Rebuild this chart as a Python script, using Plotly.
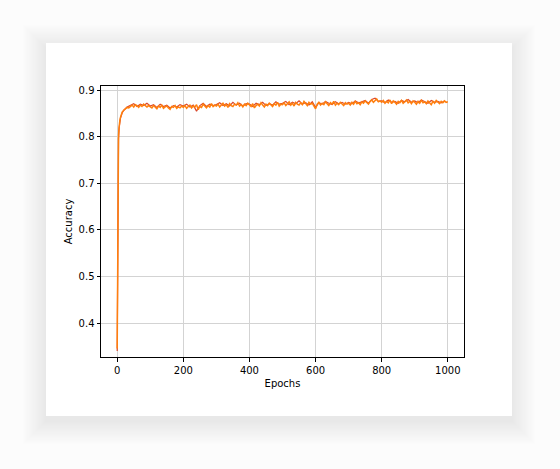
import plotly.graph_objects as go

# orange series (every 5 epochs after warm-up)
epochs_a = [0, 1, 2, 3, 4, 5, 6, 8, 10, 12, 15, 20, 25, 30, 35] + list(range(40, 1001, 5))
acc_a = [0.345, 0.56, 0.70, 0.77, 0.80, 0.815, 0.825, 0.835, 0.842, 0.848, 0.853, 0.857, 0.860, 0.863, 0.862,
         0.866, 0.868, 0.864, 0.869, 0.867, 0.863, 0.868, 0.865, 0.870, 0.866, 0.864, 0.867,
         0.865, 0.862, 0.867, 0.864, 0.860, 0.866, 0.863, 0.868, 0.861, 0.864, 0.866, 0.862, 0.859, 0.865, 0.863, 0.867, 0.861, 0.864, 0.862, 0.866,
         0.863, 0.867, 0.861, 0.865, 0.868, 0.862, 0.866, 0.864, 0.869, 0.858, 0.865, 0.863, 0.870, 0.866, 0.862, 0.867, 0.864, 0.871, 0.865, 0.868,
         0.866, 0.870, 0.864, 0.868, 0.872, 0.866, 0.869, 0.863, 0.871, 0.867, 0.865, 0.870, 0.868, 0.873, 0.866, 0.869, 0.864, 0.870, 0.867, 0.872,
         0.868, 0.865, 0.871, 0.862, 0.867, 0.870, 0.866, 0.873, 0.868, 0.864, 0.870, 0.867, 0.872, 0.869, 0.865, 0.871, 0.868, 0.874, 0.866, 0.870,
         0.869, 0.873, 0.867, 0.871, 0.875, 0.868, 0.872, 0.866, 0.874, 0.870, 0.868, 0.873, 0.869, 0.876, 0.871, 0.867, 0.874, 0.870, 0.872, 0.865,
         0.860, 0.870, 0.874, 0.868, 0.872, 0.869, 0.875, 0.871, 0.867, 0.873, 0.870, 0.876, 0.868, 0.872, 0.869, 0.874, 0.871, 0.867, 0.873, 0.870,
         0.872, 0.868, 0.874, 0.870, 0.876, 0.871, 0.873, 0.869, 0.875, 0.872, 0.877, 0.873, 0.870, 0.876, 0.879, 0.874, 0.878, 0.881, 0.875, 0.877,
         0.874, 0.878, 0.872, 0.876, 0.873, 0.879, 0.871, 0.877, 0.874, 0.870, 0.876, 0.873, 0.878, 0.872, 0.875, 0.879, 0.873, 0.876, 0.871, 0.877,
         0.874, 0.870, 0.876, 0.872, 0.878, 0.873, 0.875, 0.871, 0.877, 0.874, 0.869, 0.876, 0.872, 0.878, 0.874, 0.871, 0.876, 0.873, 0.877, 0.874,
         0.875]

# red series underneath (every 10 epochs after warm-up)
epochs_b = [0, 1, 2, 3, 4, 6, 8, 10, 15, 20, 30] + list(range(40, 1000, 10))
acc_b = [0.34, 0.55, 0.69, 0.76, 0.795, 0.82, 0.832, 0.84, 0.851, 0.857, 0.864,
         0.868, 0.871, 0.865, 0.870, 0.867, 0.872,
         0.866, 0.869, 0.863, 0.870, 0.865, 0.868, 0.862, 0.867, 0.864, 0.869,
         0.866, 0.870, 0.864, 0.868, 0.855, 0.867, 0.872, 0.865, 0.870, 0.867,
         0.869, 0.873, 0.867, 0.871, 0.866, 0.874, 0.868, 0.872, 0.866, 0.871,
         0.870, 0.865, 0.872, 0.869, 0.874, 0.867, 0.871, 0.868, 0.875, 0.870,
         0.872, 0.876, 0.869, 0.874, 0.871, 0.877, 0.870, 0.873, 0.868, 0.875,
         0.863, 0.873, 0.870, 0.876, 0.872, 0.869, 0.875, 0.871, 0.874, 0.870,
         0.874, 0.871, 0.877, 0.873, 0.875, 0.878, 0.872, 0.880, 0.883, 0.876,
         0.877, 0.873, 0.879, 0.874, 0.876, 0.872, 0.878, 0.875, 0.880, 0.874,
         0.877, 0.873, 0.879, 0.875, 0.872, 0.878, 0.874, 0.876, 0.873, 0.877]

W, H = 560, 469
L, R, T, B = 101, 96, 86, 112
pw, ph = W - L - R, H - T - B


def px_x(v):
    return (v - L) / pw


def px_y(v):
    return (H - B - v) / ph


fig = go.Figure()
fig.add_trace(go.Scatter(x=epochs_b, y=acc_b, mode="lines",
                         line=dict(color="#d9482b", width=1.2), showlegend=False))
fig.add_trace(go.Scatter(x=epochs_a, y=acc_a, mode="lines",
                         line=dict(color="#ff7f0e", width=1.5), showlegend=False))

# card with soft shadow
shapes = []
for i in range(20):
    e = 1 + 1.2 * i
    shapes.append(dict(type="rect", xref="paper", yref="paper", layer="below",
                       x0=px_x(46 - e), x1=px_x(512 + e),
                       y0=px_y(416 + e + 5), y1=px_y(43 - e + 5),
                       fillcolor="rgba(0,0,0,0.0045)", line=dict(width=0)))
shapes.append(dict(type="rect", xref="paper", yref="paper", layer="below",
                   x0=px_x(46), x1=px_x(512), y0=px_y(416), y1=px_y(43),
                   fillcolor="white", line=dict(width=0)))

axis_style = dict(showline=True, linecolor="black", linewidth=1, mirror=True,
                  ticks="outside", ticklen=3.5, tickcolor="black", tickwidth=0.8,
                  showgrid=True, gridcolor="#d3d3d3", gridwidth=0.8, zeroline=False,
                  tickfont=dict(family="DejaVu Sans", size=10, color="black"))

fig.update_layout(
    width=W, height=H,
    margin=dict(l=L, r=R, t=T, b=B),
    paper_bgcolor="#fcfcfc",
    plot_bgcolor="rgba(0,0,0,0)",
    shapes=shapes,
    xaxis=dict(range=[-49, 1049], tickvals=[0, 200, 400, 600, 800, 1000],
               title=dict(text="Epochs", standoff=5,
                          font=dict(family="DejaVu Sans", size=10, color="black")),
               **axis_style),
    yaxis=dict(range=[0.327, 0.909], tickvals=[0.4, 0.5, 0.6, 0.7, 0.8, 0.9],
               tickformat=".1f",
               title=dict(text="Accuracy", standoff=4,
                          font=dict(family="DejaVu Sans", size=10, color="black")),
               **axis_style),
)

fig.write_html("out.html", config={"displayModeBar": False},
               post_script="document.body.style.margin='0';")
